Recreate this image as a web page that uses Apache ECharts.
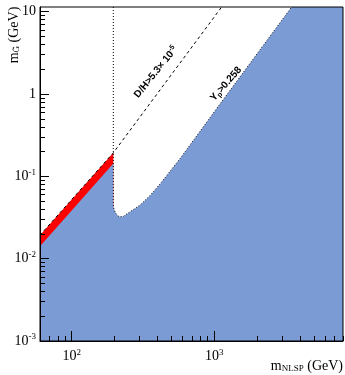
<!DOCTYPE html>
<html>
<head>
<meta charset="utf-8">
<script src="https://cdn.jsdelivr.net/npm/echarts@6/dist/echarts.min.js"></script>
<style>
html,body{margin:0;padding:0;background:#fff;}
#c{width:345px;height:375px;}
</style>
</head>
<body>
<div id="c"></div>
<script>
// ---- axis ranges / ticks ----
const xMin = 60, xMax = 8000;
const yMin = 0.001, yMax = 11.4;
const xMajorTicks = [100, 1000];
const xMinorTicks = [60,70,80,90,200,300,400,500,600,700,800,900,2000,3000,4000,5000,6000,7000,8000];
const yMajorTicks = [0.001, 0.01, 0.1, 1, 10];
const yMinorTicks = [0.002,0.003,0.004,0.005,0.006,0.007,0.008,0.009,
  0.02,0.03,0.04,0.05,0.06,0.07,0.08,0.09,
  0.2,0.3,0.4,0.5,0.6,0.7,0.8,0.9,
  2,3,4,5,6,7,8,9];

// ---- excluded regions / bounds ----
// red band (below D/H line, left of vertical cut)
const redX = [60, 196];
const redY = [0.0193, 0.193];
// blue excluded region upper boundary
const blueX = [60, 196, 196, 198, 203, 210, 218, 230, 256, 301, 354, 416, 577, 1127, 3490, 8000];
const blueY = [0.0142, 0.1435, 0.0447, 0.0405, 0.036, 0.0333, 0.0322, 0.0326, 0.037, 0.0447, 0.0582, 0.0804, 0.165, 0.805, 11.4, 11.4];
// D/H dashed line
const dhX = [60, 196, 1127];
const dhY = [0.0193, 0.193, 11.4];
// Yp dotted boundary (incl. vertical cut)
const ypX = [196, 196, 198, 203, 210, 218, 230, 256, 301, 354, 416, 577, 1127, 3490];
const ypY = [11.4, 0.0447, 0.0405, 0.036, 0.0333, 0.0322, 0.0326, 0.037, 0.0447, 0.0582, 0.0804, 0.165, 0.805, 11.4];

const pairs = (xs, ys) => xs.map((x, i) => [x, ys[i]]);

const SERIF = 'Liberation Serif';
function powLabel(v) {
  const e = Math.round(Math.log10(v));
  if (e === 0) return '{b|1}';
  if (e === 1) return '{b|10}';
  return '{b|10}{s|' + e + '}';
}
const richLab = {
  b: {fontFamily: SERIF, fontSize: 14, color: '#000'},
  s: {fontFamily: SERIF, fontSize: 9, color: '#000', padding: [0, 0, 8, 0]}
};

const chart = echarts.init(document.getElementById('c'));
chart.setOption({
  animation: false,
  grid: {left: 40, right: 2, top: 7, bottom: 34, show: true, borderColor: '#000', borderWidth: 1,
         backgroundColor: 'transparent', z: 10, containLabel: false, outerBoundsMode: 'none'},
  xAxis: [
    {type: 'log', logBase: 10, min: xMin, max: xMax, z: 10,
     axisLine: {show: true, lineStyle: {color: '#000', width: 1}},
     axisTick: {show: true, inside: true, length: 10, customValues: xMajorTicks, lineStyle: {color: '#000'}},
     axisLabel: {show: true, margin: 7, customValues: xMajorTicks, formatter: powLabel, rich: richLab},
     splitLine: {show: false}, minorTick: {show: false}},
    {type: 'log', logBase: 10, min: xMin, max: xMax, z: 10, position: 'bottom',
     axisLine: {show: false},
     axisTick: {show: true, inside: true, length: 5, customValues: xMinorTicks, lineStyle: {color: '#000'}},
     axisLabel: {show: false}, splitLine: {show: false}}
  ],
  yAxis: [
    {type: 'log', logBase: 10, min: yMin, max: yMax, z: 10,
     axisLine: {show: true, lineStyle: {color: '#000', width: 1}},
     axisTick: {show: true, inside: true, length: 9, customValues: yMajorTicks, lineStyle: {color: '#000'}},
     axisLabel: {show: true, margin: 4, customValues: yMajorTicks, formatter: powLabel, rich: richLab},
     splitLine: {show: false}},
    {type: 'log', logBase: 10, min: yMin, max: yMax, z: 10, position: 'left',
     axisLine: {show: false},
     axisTick: {show: true, inside: true, length: 5, customValues: yMinorTicks, lineStyle: {color: '#000'}},
     axisLabel: {show: false}, splitLine: {show: false}}
  ],
  series: [
    {type: 'line', data: pairs(redX, redY), showSymbol: false, z: 1,
     lineStyle: {width: 0}, areaStyle: {color: '#ff0000', opacity: 1, origin: 'start'}},
    {type: 'line', data: pairs(blueX, blueY), showSymbol: false, z: 2,
     lineStyle: {width: 0}, areaStyle: {color: '#7b9bd4', opacity: 1, origin: 'start'}},
    {type: 'line', data: pairs(dhX, dhY), showSymbol: false, z: 3,
     lineStyle: {width: 1, color: '#000', type: [3, 3]}},
    {type: 'line', data: pairs(ypX, ypY), showSymbol: false, z: 3,
     lineStyle: {width: 1, color: '#000', type: [1, 2]}}
  ],
  graphic: [
    {type: 'text', x: 14, y: 35, rotation: Math.PI / 2, z: 20,
     style: {text: '{m|m}{g|G̃}{m| (GeV)}', align: 'center', verticalAlign: 'middle',
       rich: {m: {fontFamily: SERIF, fontSize: 14, color: '#000'},
              g: {fontFamily: SERIF, fontSize: 9, color: '#000', padding: [6, 0, 0, 0]}}}},
    {type: 'text', x: 343, y: 366, z: 20,
     style: {text: '{m|m}{g|NLSP}{m| (GeV)}', align: 'right', verticalAlign: 'middle',
       rich: {m: {fontFamily: SERIF, fontSize: 14, color: '#000'},
              g: {fontFamily: SERIF, fontSize: 9, color: '#000', padding: [6, 0, 0, 0]}}}},
    {type: 'text', x: 156, y: 72, rotation: 51 * Math.PI / 180, z: 20,
     style: {text: '{m|D/H>5.3× 10}{s|-5}', align: 'center', verticalAlign: 'middle',
       rich: {m: {fontFamily: 'Liberation Sans', fontSize: 10, fontWeight: 'bold', color: '#000'},
              s: {fontFamily: 'Liberation Sans', fontSize: 7, fontWeight: 'bold', color: '#000', padding: [0, 0, 6, 0]}}}},
    {type: 'text', x: 226, y: 84, rotation: 49 * Math.PI / 180, z: 20,
     style: {text: '{m|Y}{s|p}{m|>0.258}', align: 'center', verticalAlign: 'middle',
       rich: {m: {fontFamily: 'Liberation Sans', fontSize: 10, fontWeight: 'bold', color: '#000'},
              s: {fontFamily: 'Liberation Sans', fontSize: 7, fontWeight: 'bold', color: '#000', padding: [5, 0, 0, 0]}}}}
  ]
});
</script>
</body>
</html>
